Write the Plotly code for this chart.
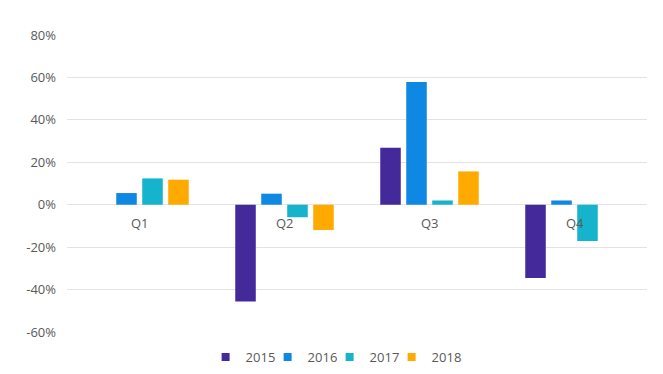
import plotly.graph_objects as go

quarters = ["Q1", "Q2", "Q3", "Q4"]
years = ["2015", "2016", "2017", "2018"]
v2015 = [0.0, -45.6, 26.8, -34.6]
v2016 = [5.5, 5.2, 57.9, 2.0]
v2017 = [12.4, -5.9, 2.0, -17.1]
v2018 = [11.8, -11.9, 15.7, 0.0]
series = [v2015, v2016, v2017, v2018]
colors = ["#44299B", "#0E88E2", "#15B3CC", "#FFAA00"]
y_ticks = [-60, -40, -20, 0, 20, 40, 60, 80]
y_tick_text = [f"{t}%" for t in y_ticks]

FONT = "Open Sans"
GREY = "#595959"

fig = go.Figure()
for name, vals, col in zip(years, series, colors):
    fig.add_trace(go.Bar(x=quarters, y=vals, name=name, marker_color=col,
                         marker_line_width=0, showlegend=False))
    # legend-only marker with a small square
    fig.add_trace(go.Scatter(x=[None], y=[None], mode="markers", name=name,
                             marker=dict(symbol="square", size=8, color=col),
                             hoverinfo="skip"))
# invisible spacer so the last legend label is not clipped
fig.add_trace(go.Scatter(x=[None], y=[None], mode="markers", name=" ",
                         marker=dict(color="rgba(0,0,0,0)"), hoverinfo="skip"))

for q in quarters:
    fig.add_annotation(x=q, y=0, xref="x", yref="y", text=q, showarrow=False,
                       yanchor="middle", yshift=-18.5,
                       font=dict(family=FONT, size=13, color=GREY))

fig.update_layout(
    width=663, height=374,
    margin=dict(l=67, r=16, t=35, b=42, autoexpand=False),
    paper_bgcolor="white", plot_bgcolor="white",
    barmode="group", bargap=0.283, bargroupgap=0.21,
    font=dict(family=FONT, size=13, color=GREY),
    legend=dict(orientation="h", x=0.239, xanchor="left",
                yref="container", y=0.0455, yanchor="middle",
                font=dict(family=FONT, size=13, color=GREY),
                itemwidth=30, tracegroupgap=0, entrywidth=17, entrywidthmode="pixels"),
    xaxis=dict(showticklabels=False, showgrid=False, showline=False, zeroline=False,
               ticks=""),
    yaxis=dict(range=[-60, 80], tickvals=y_ticks, ticktext=y_tick_text,
               showgrid=True, gridcolor="#E3E3E3", gridwidth=1,
               zeroline=True, zerolinecolor="#E3E3E3", zerolinewidth=1,
               showline=False, ticks="", ticklabelstandoff=10,
               tickfont=dict(family=FONT, size=13, color=GREY)),
)

fig.write_html("out.html", config={"displayModeBar": False})
with open("out.html", "r", encoding="utf-8") as f:
    html = f.read()
html = html.replace("<body>", '<body style="margin:0;padding:0;">', 1)
with open("out.html", "w", encoding="utf-8") as f:
    f.write(html)
